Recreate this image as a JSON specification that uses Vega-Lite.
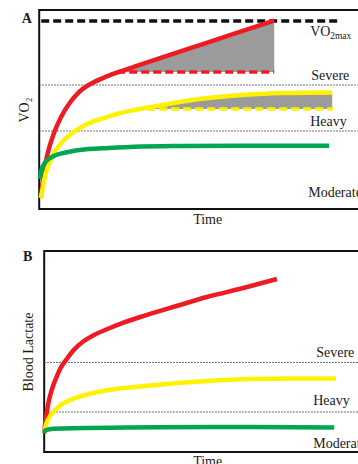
{
  "$schema": "https://vega.github.io/schema/vega-lite/v6.json",
  "padding": {"left": 16, "top": 9, "right": 0, "bottom": 0},
  "background": "white",
  "spacing": 21,
  "center": true,
  "config": {
    "view": {"stroke": "#111", "strokeWidth": 2},
    "axis": {"labels": false, "ticks": false, "domain": false, "grid": false, "titleFont": "Liberation Serif", "titleFontSize": 14, "titleFontWeight": "normal", "titleColor": "#1a1a1a", "minExtent": 0, "maxExtent": 0},
    "text": {"font": "Liberation Serif", "fontSize": 14, "color": "#1a1a1a"}
  },
  "datasets": {
    "curvesA": [
      {"series": "red", "t": 1.5, "v": 11}, {"series": "red", "t": 2, "v": 14}, {"series": "red", "t": 3.7, "v": 29}, {"series": "red", "t": 6.3, "v": 45.7}, {"series": "red", "t": 10.3, "v": 62.3}, {"series": "red", "t": 15.3, "v": 77.3}, {"series": "red", "t": 22, "v": 92.3}, {"series": "red", "t": 30.3, "v": 105.7}, {"series": "red", "t": 40.3, "v": 117.3}, {"series": "red", "t": 53.7, "v": 126.3}, {"series": "red", "t": 67, "v": 132.3}, {"series": "red", "t": 80.3, "v": 137.3}, {"series": "red", "t": 95.3, "v": 142.3}, {"series": "red", "t": 130, "v": 153.8}, {"series": "red", "t": 163, "v": 164.7}, {"series": "red", "t": 196, "v": 175.6}, {"series": "red", "t": 235, "v": 188.3},
      {"series": "yellow", "t": 1.5, "v": 11}, {"series": "yellow", "t": 2, "v": 13}, {"series": "yellow", "t": 5.3, "v": 30.7}, {"series": "yellow", "t": 8.7, "v": 42.3}, {"series": "yellow", "t": 13.7, "v": 54}, {"series": "yellow", "t": 20.3, "v": 64}, {"series": "yellow", "t": 30.3, "v": 74}, {"series": "yellow", "t": 40.3, "v": 80.7}, {"series": "yellow", "t": 53.7, "v": 87.3}, {"series": "yellow", "t": 67, "v": 91.7}, {"series": "yellow", "t": 80.3, "v": 95.7}, {"series": "yellow", "t": 95.3, "v": 99}, {"series": "yellow", "t": 108, "v": 101.5}, {"series": "yellow", "t": 126, "v": 104.5}, {"series": "yellow", "t": 160, "v": 110}, {"series": "yellow", "t": 203, "v": 114}, {"series": "yellow", "t": 243, "v": 116}, {"series": "yellow", "t": 293, "v": 116.5},
      {"series": "green", "t": 0.5, "v": 30}, {"series": "green", "t": 2, "v": 38}, {"series": "green", "t": 5.3, "v": 45.7}, {"series": "green", "t": 10.3, "v": 50.7}, {"series": "green", "t": 17, "v": 54}, {"series": "green", "t": 30.3, "v": 57.3}, {"series": "green", "t": 47, "v": 59.7}, {"series": "green", "t": 63.7, "v": 60.7}, {"series": "green", "t": 95.3, "v": 62.3}, {"series": "green", "t": 143, "v": 63}, {"series": "green", "t": 203, "v": 63.3}, {"series": "green", "t": 290, "v": 63.3}
    ],
    "shadeA": [
      {"grp": "red", "t": 78, "top": 136.5, "base": 137}, {"grp": "red", "t": 80.3, "top": 137.3, "base": 137}, {"grp": "red", "t": 95.3, "top": 142.3, "base": 137}, {"grp": "red", "t": 130, "top": 153.8, "base": 137}, {"grp": "red", "t": 163, "top": 164.7, "base": 137}, {"grp": "red", "t": 196, "top": 175.6, "base": 137}, {"grp": "red", "t": 235, "top": 188.3, "base": 137},
      {"grp": "yellow", "t": 108, "top": 101.5, "base": 100}, {"grp": "yellow", "t": 126, "top": 104.5, "base": 100}, {"grp": "yellow", "t": 160, "top": 110, "base": 100}, {"grp": "yellow", "t": 203, "top": 114, "base": 100}, {"grp": "yellow", "t": 243, "top": 116, "base": 100}, {"grp": "yellow", "t": 293, "top": 116.5, "base": 100}
    ],
    "dashedA": [
      {"series": "black", "t": 2, "t2": 300, "v": 188},
      {"series": "red", "t": 78, "t2": 235, "v": 137},
      {"series": "yellow", "t": 108, "t2": 294, "v": 100}
    ],
    "thresholdsA": [{"zone": "Severe", "v": 124}, {"zone": "Heavy", "v": 78}],
    "labelsA": [
      {"label": "VO", "t": 271, "v": 177},
      {"label": "Severe", "t": 272, "v": 133},
      {"label": "Heavy", "t": 271, "v": 87},
      {"label": "Moderate", "t": 269, "v": 16}
    ],
    "subA": [{"label": "2max", "t": 291, "v": 173}],
    "panelA": [{"label": "A", "t": -12.5, "v": 190}],
    "curvesB": [
      {"series": "red", "t": 0, "v": 19}, {"series": "red", "t": 1.2, "v": 30}, {"series": "red", "t": 2.7, "v": 40}, {"series": "red", "t": 4.2, "v": 49}, {"series": "red", "t": 6, "v": 56.7}, {"series": "red", "t": 8.5, "v": 65}, {"series": "red", "t": 11, "v": 71.7}, {"series": "red", "t": 16, "v": 83.3}, {"series": "red", "t": 22.7, "v": 93.3}, {"series": "red", "t": 29.3, "v": 101.7}, {"series": "red", "t": 39.3, "v": 110.7}, {"series": "red", "t": 49.3, "v": 116.7}, {"series": "red", "t": 62.7, "v": 122.7}, {"series": "red", "t": 79.3, "v": 129.3}, {"series": "red", "t": 96, "v": 135}, {"series": "red", "t": 114.3, "v": 140.7}, {"series": "red", "t": 129, "v": 145}, {"series": "red", "t": 162.7, "v": 155}, {"series": "red", "t": 201, "v": 164.5}, {"series": "red", "t": 232.7, "v": 173},
      {"series": "yellow", "t": 0, "v": 19}, {"series": "yellow", "t": 1, "v": 24}, {"series": "yellow", "t": 2.7, "v": 30}, {"series": "yellow", "t": 7.7, "v": 38.3}, {"series": "yellow", "t": 16, "v": 46.7}, {"series": "yellow", "t": 29.3, "v": 53.3}, {"series": "yellow", "t": 46, "v": 58.3}, {"series": "yellow", "t": 62.7, "v": 61.7}, {"series": "yellow", "t": 82.7, "v": 64.3}, {"series": "yellow", "t": 114.3, "v": 67.3}, {"series": "yellow", "t": 162.7, "v": 71}, {"series": "yellow", "t": 206, "v": 73}, {"series": "yellow", "t": 246, "v": 73.5}, {"series": "yellow", "t": 291.7, "v": 73.5},
      {"series": "green", "t": 0, "v": 19}, {"series": "green", "t": 1, "v": 21.7}, {"series": "green", "t": 9.3, "v": 23.3}, {"series": "green", "t": 114.3, "v": 24.7}, {"series": "green", "t": 206, "v": 25}, {"series": "green", "t": 290, "v": 24.5}
    ],
    "thresholdsB": [{"zone": "Severe", "v": 89.5}, {"zone": "Heavy", "v": 40}],
    "labelsB": [
      {"label": "Severe", "t": 272, "v": 99},
      {"label": "Heavy", "t": 269, "v": 51},
      {"label": "Moderate", "t": 269, "v": 8}
    ],
    "panelB": [{"label": "B", "t": -16.5, "v": 195}]
  },
  "vconcat": [
    {
      "width": 336,
      "height": 199,
      "encoding": {
        "x": {"field": "t", "type": "quantitative", "scale": {"domain": [0, 336], "nice": false, "zero": false}, "axis": {"title": "Time", "titlePadding": 3}},
        "y": {"field": "v", "type": "quantitative", "scale": {"domain": [0, 199], "nice": false, "zero": false}, "axis": {"title": "VO₂", "titlePadding": 8}}
      },
      "layer": [
        {
          "data": {"name": "shadeA"},
          "mark": {"type": "area", "color": "#9b9b9b", "opacity": 1, "interpolate": "monotone"},
          "encoding": {"y": {"field": "top", "type": "quantitative"}, "y2": {"field": "base"}, "detail": {"field": "grp"}}
        },
        {
          "data": {"name": "thresholdsA"},
          "mark": {"type": "rule", "color": "#444", "strokeWidth": 1.2, "strokeDash": [1.5, 1.5]},
          "encoding": {"x": {"value": 0}, "x2": {"value": 336}}
        },
        {
          "data": {"name": "dashedA"},
          "mark": {"type": "rule", "strokeWidth": 3.5, "strokeDash": [8, 4]},
          "encoding": {"x2": {"field": "t2"}, "color": {"field": "series", "type": "nominal", "scale": {"domain": ["red", "yellow", "green", "black"], "range": ["#ed1c24", "#fff200", "#00a651", "#111111"]}, "legend": null}}
        },
        {
          "data": {"name": "curvesA"},
          "mark": {"type": "line", "strokeWidth": 4.5, "interpolate": "monotone"},
          "encoding": {"color": {"field": "series", "type": "nominal", "scale": {"domain": ["red", "yellow", "green", "black"], "range": ["#ed1c24", "#fff200", "#00a651", "#111111"]}, "legend": null}}
        },
        {
          "data": {"name": "labelsA"},
          "mark": {"type": "text", "align": "left", "baseline": "middle"},
          "encoding": {"text": {"field": "label"}}
        },
        {
          "data": {"name": "subA"},
          "mark": {"type": "text", "align": "left", "baseline": "middle", "fontSize": 9.5},
          "encoding": {"text": {"field": "label"}}
        },
        {
          "data": {"name": "panelA"},
          "mark": {"type": "text", "align": "center", "baseline": "middle", "fontWeight": "bold"},
          "encoding": {"text": {"field": "label"}}
        }
      ]
    },
    {
      "width": 326,
      "height": 201,
      "encoding": {
        "x": {"field": "t", "type": "quantitative", "scale": {"domain": [0, 326], "nice": false, "zero": false}, "axis": {"title": "Time", "titlePadding": 2}},
        "y": {"field": "v", "type": "quantitative", "scale": {"domain": [0, 201], "nice": false, "zero": false}, "axis": {"title": "Blood Lactate", "titlePadding": 9}}
      },
      "layer": [
        {
          "data": {"name": "thresholdsB"},
          "mark": {"type": "rule", "color": "#444", "strokeWidth": 1.2, "strokeDash": [1.5, 1.5]},
          "encoding": {"x": {"value": 0}, "x2": {"value": 326}}
        },
        {
          "data": {"name": "curvesB"},
          "mark": {"type": "line", "strokeWidth": 4.5, "interpolate": "monotone"},
          "encoding": {"color": {"field": "series", "type": "nominal", "scale": {"domain": ["red", "yellow", "green", "black"], "range": ["#ed1c24", "#fff200", "#00a651", "#111111"]}, "legend": null}}
        },
        {
          "data": {"name": "labelsB"},
          "mark": {"type": "text", "align": "left", "baseline": "middle"},
          "encoding": {"text": {"field": "label"}}
        },
        {
          "data": {"name": "panelB"},
          "mark": {"type": "text", "align": "center", "baseline": "middle", "fontWeight": "bold"},
          "encoding": {"text": {"field": "label"}}
        }
      ]
    }
  ]
}
